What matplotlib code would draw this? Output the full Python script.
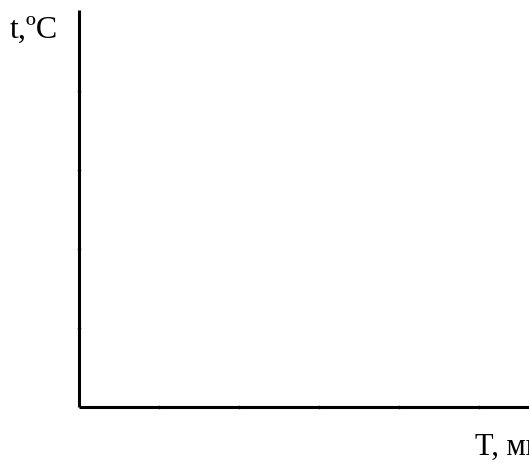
import matplotlib as mpl
mpl.use('Agg')
import matplotlib.pyplot as plt

# Empty axes: only tick positions and axis labels
x_ticks = [1, 2, 3, 4, 5]
y_ticks = [1, 2, 3, 4]
x_label = "T, мин"
y_label = "t,ºC"

W, H = 529, 472
fig = plt.figure(figsize=(W / 100, H / 100), dpi=100)

# axes origin at (79, 407) px, y axis up to ~10 px, x axis runs off the right edge
ax = fig.add_axes([79 / W, (H - 407) / H, 1 - 79 / W, (407 - 10) / H])
ax.set_xlim(0, (W - 79) / 80.0)
ax.set_ylim(0, 397 / 79.0)

ax.set_xticks(x_ticks)
ax.set_yticks(y_ticks)
ax.set_xticklabels([])
ax.set_yticklabels([])
ax.tick_params(axis='both', direction='inout', length=3, width=1, color='#888888')

for s in ['top', 'right']:
    ax.spines[s].set_visible(False)
for s in ['left', 'bottom']:
    ax.spines[s].set_linewidth(2.2)
    ax.spines[s].set_color('black')
    ax.spines[s].set_capstyle('butt')

fig.text(10 / W, 1 - 38 / H, y_label, ha='left', va='baseline',
         family='Liberation Serif', size=23, color='black')
fig.text(475 / W, 1 - 455 / H, x_label, ha='left', va='baseline',
         family='Liberation Serif', size=22, color='black')

fig.savefig('out.png', dpi=100)
